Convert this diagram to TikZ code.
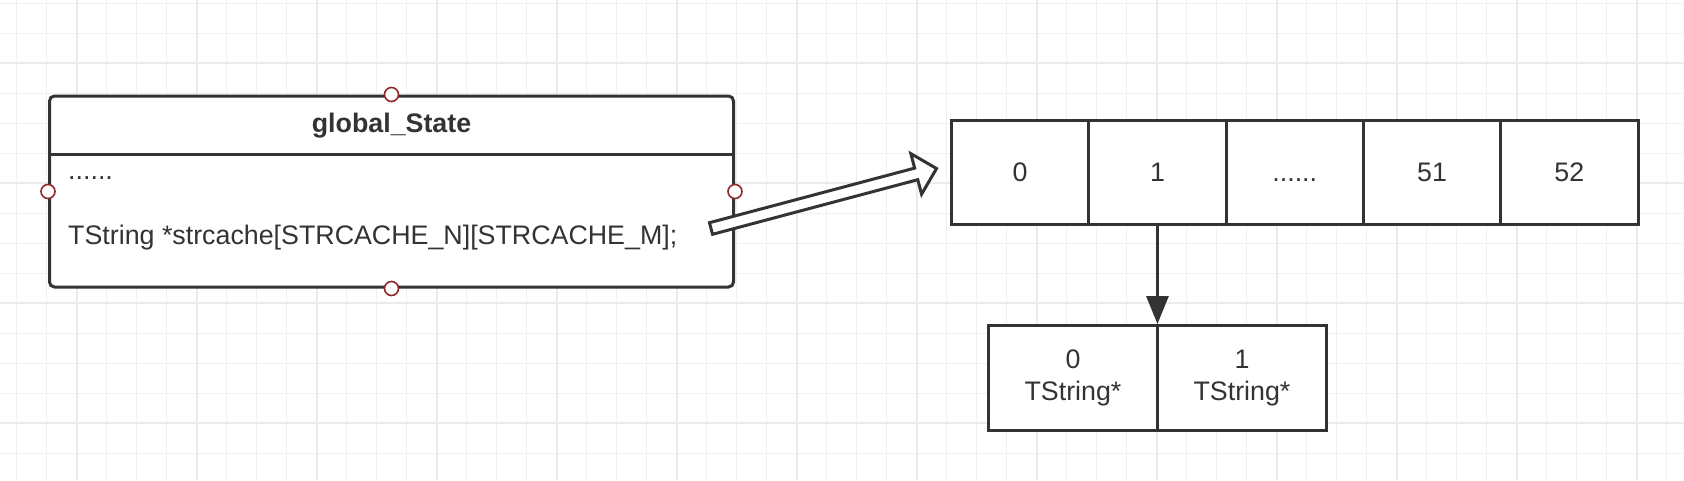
\documentclass[tikz,border=0pt]{standalone}
\usepackage{fontspec}
\setmainfont{Liberation Sans}
\usetikzlibrary{arrows.meta,calc}
\definecolor{ink}{HTML}{333333}
\definecolor{gridc}{HTML}{F0F0F0}
\definecolor{gridm}{HTML}{EBEBEB}
\definecolor{port}{HTML}{8E2A2A}
\begin{document}
\begin{tikzpicture}[x=1pt,y=-1pt,
  every node/.style={font=\fontsize{26.8}{32}\selectfont, text=ink},
  gsbox/.style={draw=ink, line width=3pt, fill=white, rounded corners=5pt, inner sep=0pt,
    minimum width=684pt, minimum height=191pt},
  cell/.style={draw=ink, line width=3pt, fill=white, inner sep=0pt,
    minimum width=137.3pt, minimum height=104.5pt},
  lbox/.style={draw=ink, line width=3pt, fill=white, inner sep=0pt, align=center,
    minimum width=169pt, minimum height=105pt},
  portc/.style={draw=port, fill=white, line width=1.6pt}]
\useasboundingbox (0,0) rectangle (1684,480);
\fill[white] (0,0) rectangle (1684,480);
% grid
\foreach \x in {16.5,46.5,...,1684} \draw[gridc, line width=1.5pt] (\x,0) -- (\x,480);
\foreach \y in {3.3,33.3,...,480} \draw[gridc, line width=1.5pt] (0,\y) -- (1684,\y);
\foreach \x in {76.5,196.5,...,1684} \draw[gridm, line width=2pt] (\x,0) -- (\x,480);
\foreach \y in {63.3,183.3,...,480} \draw[gridm, line width=2pt] (0,\y) -- (1684,\y);
% global_State box
\node[gsbox, anchor=north west] (gs) at (48,94.5) {};
\draw[ink, line width=3pt] ($(gs.north west)+(0,60.2)$) -- ($(gs.north east)+(0,60.2)$);
\node[font=\fontsize{26.8}{32}\selectfont\bfseries] (title) at ($(gs.north)+(0,31)$) {global\_State};
\node[anchor=base west, inner sep=0pt] (dots) at (68,179) {......};
\node[anchor=base west, inner sep=0pt] (field) at (68,244) {TString *strcache[STRCACHE\_N][STRCACHE\_M];};
\foreach \a in {north,south,east,west} \draw[portc] (gs.\a) circle (7pt);
% array of cells
\node[cell] (c0) at (1020.15,172.25) {0};
\node[cell] (c1) at (1157.45,172.25) {1};
\node[cell] (c2) at (1294.75,172.25) {\vphantom{0}......};
\node[cell] (c3) at (1432.05,172.25) {51};
\node[cell] (c4) at (1569.35,172.25) {52};
% lower boxes
\node[lbox] (b0) at (1072.95,378) {0\\TString*};
\node[lbox] (b1) at (1241.95,378) {1\\TString*};
% down arrow
\draw[ink, line width=3pt, -{Triangle[length=28pt,width=22pt]}] (c1.south) -- (c1.south |- b0.north);
% hollow arrow
\coordinate (tail) at (711,228.5);
\coordinate (tip) at (936.5,168.5);
\coordinate (hb) at ($(tip)!21pt!(tail)$);
\draw[ink, line width=3pt, fill=white, line join=miter]
  ($(tail)!6pt!90:(tip)$) -- ($(hb)!6pt!90:(tip)$) -- ($(hb)!21pt!90:(tip)$) -- (tip)
  -- ($(hb)!21pt!-90:(tip)$) -- ($(hb)!6pt!-90:(tip)$) -- ($(tail)!6pt!-90:(tip)$) -- cycle;
\end{tikzpicture}
\end{document}
